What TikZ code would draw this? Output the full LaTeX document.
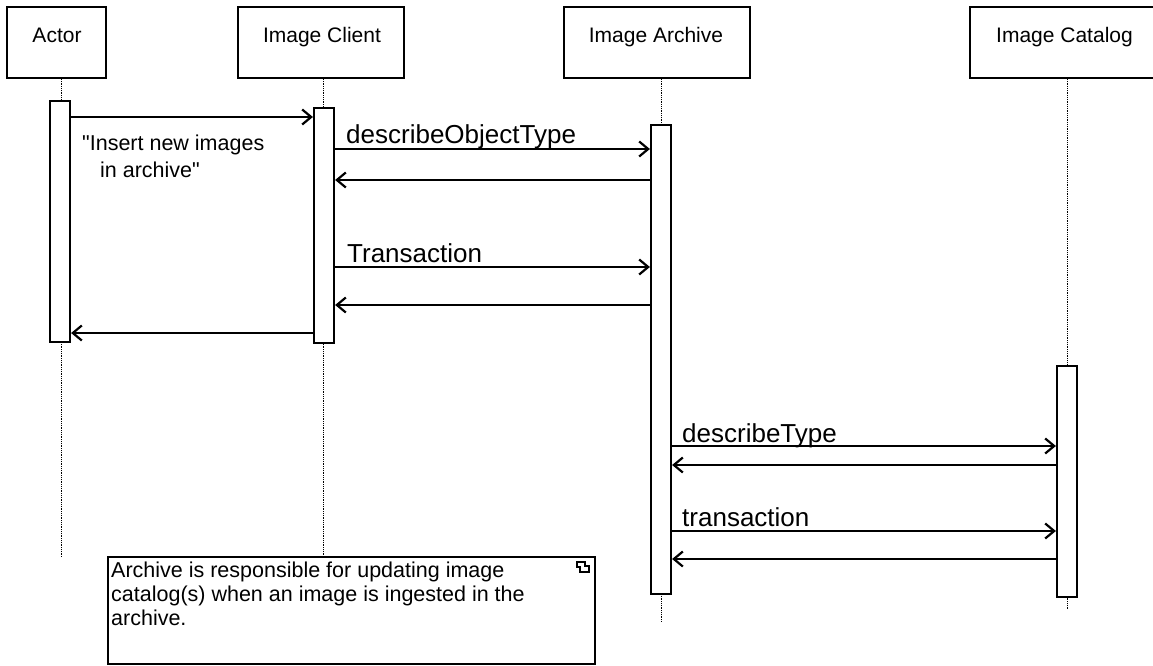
\documentclass[tikz,border=0pt]{standalone}
\usepackage{fontspec}
\setmainfont{Liberation Sans}[Ligatures=TeXOff]
\usetikzlibrary{arrows.meta}
\begin{document}
\begin{tikzpicture}[x=1pt,y=-1pt,
  hdr/.style={draw, line width=2.2pt, inner sep=0pt, minimum height=71pt},
  hdrtext/.style={anchor=base, inner sep=0pt, font=\fontsize{21}{24}\selectfont},
  actbar/.style={draw, line width=2.2pt, fill=white, inner sep=0pt, minimum width=20pt},
  life/.style={densely dotted, line width=0.8pt},
  msg/.style={line width=2pt, -{Straight Barb[length=9pt,width=15pt,line width=2.2pt]}},
  lbl/.style={anchor=base west, inner sep=0pt, font=\fontsize{26}{30}\selectfont},
  notetext/.style={anchor=base west, inner sep=0pt, font=\fontsize{21.5}{24}\selectfont}]
\useasboundingbox (0,0) rectangle (1153,666);
\begin{scope}
\clip (0,0) rectangle (1153,666);
% header boxes
\node[hdr, minimum width=99pt]  (actor)   at (56.5,42.5) {};
\node[hdr, minimum width=166pt] (client)  at (321,42.5) {};
\node[hdr, minimum width=186pt] (archive) at (657,42.5) {};
\node[hdr, minimum width=195pt] (catalog) at (1067.5,42.5) {};
\node[hdrtext] (actorT)   at (57,43)   {Actor};
\node[hdrtext] (clientT)  at (322,43)  {Image Client};
\node[hdrtext] (archiveT) at (656,43)  {Image Archive};
\node[hdrtext] (catalogT) at (1064.5,43) {Image Catalog};
% lifelines (drawn first)
\coordinate (actEnd) at (61,557);
\coordinate (arcEnd) at (661,621);
\coordinate (catEnd) at (1067,609);
\node[draw, line width=2.2pt, inner sep=0pt, minimum width=487pt, minimum height=107pt] (note) at (351.5,610.5) {};
\draw[life] (actor.south -| actEnd) -- (actEnd);
\draw[life] (client.south -| 323,0) -- (note.north -| 323,0);
\draw[life] (archive.south -| arcEnd) -- (arcEnd);
\draw[life] (catalog.south -| catEnd) -- (catEnd);
% activation bars
\node[actbar, minimum height=241pt] (actA) at (60,221.5) {};
\node[actbar, minimum height=235pt] (cliA) at (324,225.5) {};
\node[actbar, minimum height=469pt] (arcA) at (661,359.5) {};
\node[actbar, minimum height=231pt] (catA) at (1067,481.5) {};
% messages
\draw[msg] (actA.east |- 0,117) -- (cliA.west |- 0,117);
\draw[msg] (cliA.east |- 0,149) -- (arcA.west |- 0,149);
\draw[msg] (arcA.west |- 0,180) -- (cliA.east |- 0,180);
\draw[msg] (cliA.east |- 0,267) -- (arcA.west |- 0,267);
\draw[msg] (arcA.west |- 0,305) -- (cliA.east |- 0,305);
\draw[msg] (cliA.west |- 0,333) -- (actA.east |- 0,333);
\draw[msg] (arcA.east |- 0,446) -- (catA.west |- 0,446);
\draw[msg] (catA.west |- 0,465) -- (arcA.east |- 0,465);
\draw[msg] (arcA.east |- 0,531) -- (catA.west |- 0,531);
\draw[msg] (catA.west |- 0,559) -- (arcA.east |- 0,559);
% labels
\node[lbl] (l1) at (346,143) {describeObjectType};
\node[lbl] (l2) at (347,262) {Transaction};
\node[lbl] (l3) at (682,442) {describeType};
\node[lbl] (l4) at (682,526) {transaction};
\node[notetext] (n1) at (82,150) {"Insert new images};
\node[notetext] (n2) at (100,177) {in archive"};
% note text
\node[notetext] (t1) at (111,577) {Archive is responsible for updating image};
\node[notetext] (t2) at (111,601) {catalog(s) when an image is ingested in the};
\node[notetext] (t3) at (111,625) {archive.};
% note corner glyph
\draw[line width=1.2pt] (577,562) -- (585,562) -- (585,566) -- (589,566) -- (589,572) -- (580,572) -- (580,567) -- (577,567) -- cycle;
\end{scope}
\end{tikzpicture}
\end{document}
